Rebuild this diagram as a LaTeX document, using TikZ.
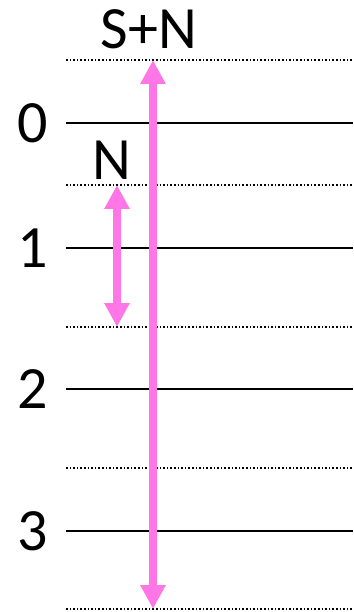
\documentclass[tikz,border=0pt]{standalone}
\usepackage{fontspec}
\setmainfont{Carlito}
\usetikzlibrary{arrows.meta}
\definecolor{pinkarrow}{RGB}{255,119,230}

\begin{document}
\begin{tikzpicture}[
    x=1pt, y=-1pt,
    level/.style={draw, line width=1.6pt},
    half/.style={draw, line width=1.6pt, dash pattern=on 1.6pt off 2pt},
    lbl/.style={font=\fontsize{60}{60}\selectfont, inner sep=0pt},
    arr/.style={line width=8pt, draw=pinkarrow, {Triangle[length=24pt, width=24pt, fill=pinkarrow]}-{Triangle[length=24pt, width=24pt, fill=pinkarrow]}},
]
\useasboundingbox (0,0) rectangle (353,612);
% ----- the levels and the half-way lines
\foreach \y in {60,185,327,468,609} { \draw[half] (66,\y) -- (353,\y); }
\foreach \y/\k in {123/0,248/1,389/2,531/3} {
  \draw[level] (66,\y) -- (353,\y);
  \node[lbl] (l\k) at (33,\y) {\k};
}
% ----- the two ranges
\coordinate (sntop) at (153,60);
\coordinate (snbot) at (153,609);
\coordinate (ntop) at (117,185);
\coordinate (nbot) at (117,327);
\node[lbl] (sn) at (149,29) {S+N};
\node[lbl] (n) at (112,160) {N};
\draw[arr] (sntop) -- (snbot);
\draw[arr] (ntop) -- (nbot);
\end{tikzpicture}
\end{document}
